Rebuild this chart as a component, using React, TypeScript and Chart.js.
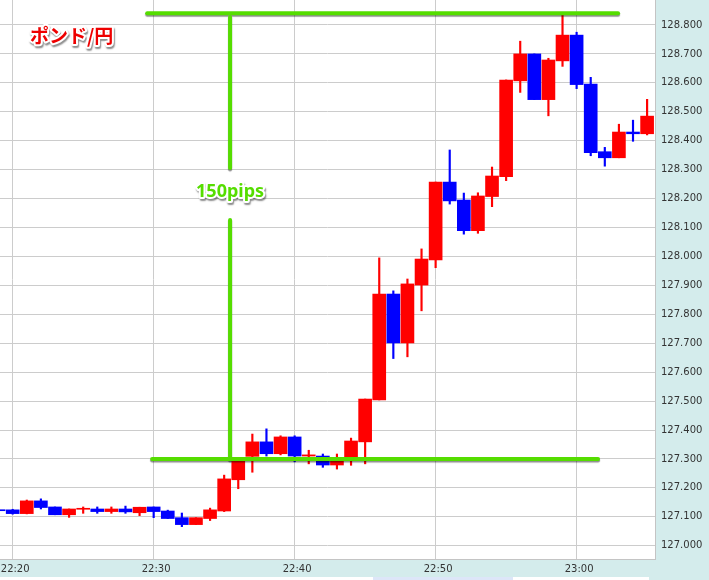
import React, { useEffect, useRef } from 'react';
import { Chart, registerables } from 'chart.js';

Chart.register(...registerables);

// ---- data ----
const TIMES = [
  '22:19', '22:20', '22:21', '22:22', '22:23', '22:24', '22:25', '22:26', '22:27', '22:28',
  '22:29', '22:30', '22:31', '22:32', '22:33', '22:34', '22:35', '22:36', '22:37', '22:38',
  '22:39', '22:40', '22:41', '22:42', '22:43', '22:44', '22:45', '22:46', '22:47', '22:48',
  '22:49', '22:50', '22:51', '22:52', '22:53', '22:54', '22:55', '22:56', '22:57', '22:58',
  '22:59', '23:00', '23:01', '23:02', '23:03', '23:04', '23:05',
];
const OPEN = [
  127.123, 127.124, 127.111, 127.155, 127.134, 127.107, 127.126, 127.127, 127.118, 127.127,
  127.114, 127.134, 127.120, 127.097, 127.073, 127.094, 127.120, 127.228, 127.309, 127.359,
  127.318, 127.376, 127.310, 127.310, 127.279, 127.296, 127.359, 127.504, 127.870, 127.701,
  127.901, 127.988, 128.257, 128.195, 128.089, 128.207, 128.276, 128.607, 128.700, 128.542,
  128.676, 128.765, 128.596, 128.362, 128.341, 128.430, 128.424,
];
const HIGH = [
  127.126, 127.126, 127.158, 127.162, 127.134, 127.127, 127.134, 127.134, 127.134, 127.137,
  127.133, 127.134, 127.123, 127.113, 127.097, 127.130, 127.244, 127.300, 127.386, 127.404,
  127.380, 127.380, 127.330, 127.317, 127.317, 127.372, 127.507, 127.995, 127.881, 127.922,
  128.026, 128.257, 128.368, 128.219, 128.220, 128.309, 128.610, 128.744, 128.700, 128.685,
  128.836, 128.775, 128.619, 128.377, 128.457, 128.471, 128.543,
];
const LOW = [
  127.119, 127.109, 127.110, 127.127, 127.107, 127.098, 127.112, 127.112, 127.112, 127.112,
  127.104, 127.097, 127.094, 127.066, 127.073, 127.087, 127.118, 127.197, 127.254, 127.310,
  127.314, 127.290, 127.283, 127.271, 127.265, 127.278, 127.283, 127.504, 127.647, 127.653,
  127.812, 127.961, 128.181, 128.077, 128.080, 128.172, 128.262, 128.567, 128.542, 128.486,
  128.657, 128.580, 128.348, 128.312, 128.341, 128.398, 128.420,
];
const CLOSE = [
  127.121, 127.111, 127.155, 127.132, 127.107, 127.127, 127.128, 127.118, 127.127, 127.117,
  127.133, 127.118, 127.094, 127.073, 127.097, 127.124, 127.231, 127.296, 127.359, 127.318,
  127.376, 127.310, 127.314, 127.279, 127.296, 127.362, 127.507, 127.870, 127.701, 127.905,
  127.991, 128.257, 128.192, 128.089, 128.209, 128.278, 128.610, 128.700, 128.542, 128.679,
  128.765, 128.594, 128.359, 128.341, 128.430, 128.424, 128.485,
];

const PAIR_TITLE = 'ポンド/円';
const PIPS_LABEL = '150pips';

// annotation levels (price) and spans (candle index units)
const LEVEL_LOW = 127.3;
const LEVEL_HIGH = 128.841;
const LOW_LINE_SPAN = [10.89, 42.52];
const HIGH_LINE_SPAN = [10.54, 43.94];
const MEASURE_AT = 16.42;
const MEASURE_UPPER = [128.828, 128.306];
const MEASURE_LOWER = [128.126, 127.3];
const PIPS_LABEL_PRICE = 128.223;

const Y_MIN = 126.9541;
const Y_MAX = 128.8864;
const X_MIN = 0.1;
const X_MAX = 46.56;

// ---- styles ----
const UP = '#ff0000';
const DOWN = '#0000ff';
const GREEN = '#55dd00';
const BAND = '#d4ecec';
const GRID = '#cccccc';
const AXIS_FONT = { family: '"DejaVu Sans", Verdana, sans-serif', size: 10 };

function outlinedText(ctx: CanvasRenderingContext2D, text: string, x: number, y: number, fill: string, font: string, align: CanvasTextAlign) {
  ctx.save();
  ctx.font = font;
  ctx.textAlign = align;
  ctx.textBaseline = 'middle';
  ctx.lineJoin = 'round';
  ctx.shadowColor = 'rgba(0,0,0,0.45)';
  ctx.shadowOffsetX = 1;
  ctx.shadowOffsetY = 1.5;
  ctx.shadowBlur = 1.5;
  ctx.strokeStyle = '#ffffff';
  ctx.lineWidth = 4;
  ctx.strokeText(text, x, y);
  ctx.shadowColor = 'transparent';
  ctx.fillStyle = fill;
  ctx.fillText(text, x, y);
  ctx.restore();
}

const backgroundPlugin = {
  id: 'bg',
  beforeDraw(chart: any) {
    const { ctx, chartArea, width, height } = chart;
    ctx.save();
    ctx.fillStyle = BAND;
    ctx.fillRect(0, 0, width, height);
    ctx.fillStyle = '#ffffff';
    ctx.fillRect(chartArea.left, chartArea.top, chartArea.right - chartArea.left, chartArea.bottom - chartArea.top);
    // bottom strip under the time band
    ctx.fillStyle = '#ffffff';
    ctx.fillRect(0, 577, 373, 3);
    ctx.fillStyle = '#dde6f8';
    ctx.fillRect(373, 577, 140, 3);
    ctx.fillStyle = '#ffffff';
    ctx.fillRect(513, 577, 136, 3);
    ctx.restore();
  },
};

const annotationPlugin = {
  id: 'annot',
  afterDraw(chart: any) {
    const { ctx } = chart;
    const xs = chart.scales.x;
    const ys = chart.scales.y;
    const px = (v: number) => xs.getPixelForValue(v);
    const py = (v: number) => ys.getPixelForValue(v);

    ctx.save();
    ctx.strokeStyle = GREEN;
    ctx.lineWidth = 4;
    ctx.lineCap = 'round';
    ctx.shadowColor = 'rgba(0,0,0,0.45)';
    ctx.shadowOffsetY = 1.5;
    ctx.shadowBlur = 1;
    const seg = (x1: number, y1: number, x2: number, y2: number) => {
      ctx.beginPath();
      ctx.moveTo(x1, y1);
      ctx.lineTo(x2, y2);
      ctx.stroke();
    };
    seg(px(HIGH_LINE_SPAN[0]), py(LEVEL_HIGH), px(HIGH_LINE_SPAN[1]), py(LEVEL_HIGH));
    seg(px(MEASURE_AT), py(MEASURE_UPPER[0]), px(MEASURE_AT), py(MEASURE_UPPER[1]));
    seg(px(MEASURE_AT), py(MEASURE_LOWER[0]), px(MEASURE_AT), py(MEASURE_LOWER[1]));
    seg(px(LOW_LINE_SPAN[0]), py(LEVEL_LOW), px(LOW_LINE_SPAN[1]), py(LEVEL_LOW));
    ctx.restore();

    outlinedText(ctx, PIPS_LABEL, px(MEASURE_AT), py(PIPS_LABEL_PRICE), GREEN, 'bold 18px "Noto Sans", "Liberation Sans", sans-serif', 'center');
    outlinedText(ctx, PAIR_TITLE, chart.chartArea.left + 30, chart.chartArea.top + 36, '#ee0000', 'bold 19px "Noto Sans CJK JP", sans-serif', 'left');
  },
};

export default function App() {
  const ref = useRef<HTMLCanvasElement>(null);

  useEffect(() => {
    const canvas = ref.current;
    if (!canvas) return;
    const idx = TIMES.map((_, i) => i);
    const colors = idx.map((i) => (CLOSE[i] >= OPEN[i] ? UP : DOWN));
    const bodies = idx.map((i) => ({ x: i, y: [OPEN[i], CLOSE[i]] }));
    const wicks = idx.map((i) => ({ x: i, y: [LOW[i], HIGH[i]] }));
    const tickIdx = idx.filter((i) => TIMES[i].endsWith('0'));

    const chart = new Chart(canvas, {
      type: 'bar',
      data: {
        datasets: [
          {
            label: 'wick',
            data: wicks as any,
            backgroundColor: colors,
            barThickness: 1.5,
            grouped: false,
            borderWidth: 0,
            order: 2,
          } as any,
          {
            label: 'body',
            data: bodies as any,
            backgroundColor: colors,
            barThickness: 13,
            grouped: false,
            borderWidth: 0,
            minBarLength: 1,
            order: 1,
          } as any,
        ],
      },
      options: {
        animation: false,
        responsive: false,
        devicePixelRatio: 1,
        layout: { padding: 0 },
        plugins: {
          legend: { display: false },
          tooltip: { enabled: false },
        },
        scales: {
          x: {
            type: 'linear',
            offset: false,
            min: X_MIN,
            max: X_MAX,
            afterBuildTicks: (s: any) => {
              s.ticks = tickIdx.map((v) => ({ value: v }));
            },
            afterFit: (s: any) => {
              s.height = 21;
              s.paddingLeft = 0;
              s.paddingRight = 0;
            },
            ticks: {
              callback: (v: any) => TIMES[Math.round(Number(v))] ?? '',
              autoSkip: false,
              maxRotation: 0,
              labelOffset: 2.5,
              padding: 4,
              color: '#333333',
              font: AXIS_FONT,
            },
            grid: { color: GRID, drawTicks: false, offset: false },
            border: { color: '#c4c4c4' },
          } as any,
          y: {
            type: 'linear',
            position: 'right',
            min: Y_MIN,
            max: Y_MAX,
            afterFit: (s: any) => {
              s.width = 54;
              s.paddingTop = 0;
              s.paddingBottom = 0;
            },
            ticks: {
              stepSize: 0.1,
              includeBounds: false,
              callback: (v: any) => Number(v).toFixed(3),
              padding: 6,
              color: '#333333',
              font: AXIS_FONT,
            },
            grid: { color: GRID, drawTicks: false },
            border: { color: '#c4c4c4' },
          } as any,
        },
      },
      plugins: [backgroundPlugin, annotationPlugin],
    } as any);

    return () => chart.destroy();
  }, []);

  return (
    <div style={{ position: 'absolute', left: 0, top: 0, width: 709, height: 580 }}>
      <canvas ref={ref} width={709} height={580} style={{ display: 'block', width: 709, height: 580 }} />
    </div>
  );
}
